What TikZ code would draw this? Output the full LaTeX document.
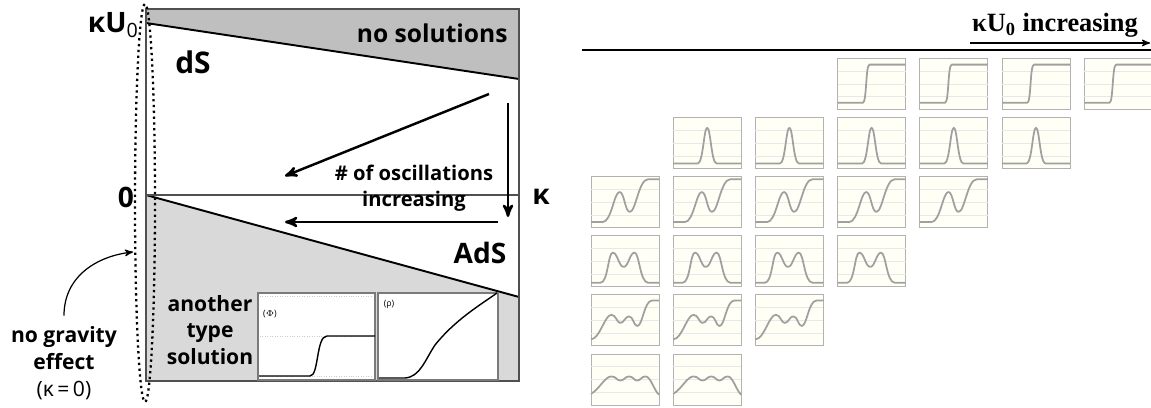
\documentclass[tikz,border=0pt]{standalone}
\usepackage{fontspec}
\usepackage{tikz}
\usetikzlibrary{arrows}
\usetikzlibrary{positioning}
\newfontfamily\labelfont{Open Sans}
\newfontfamily\titlefont{Liberation Serif}
\definecolor{nosolgray}{HTML}{BFBFBF}
\definecolor{adsgray}{HTML}{D9D9D9}
\definecolor{framegray}{HTML}{505050}
\definecolor{insetgray}{HTML}{7A7A7A}
\definecolor{thumbgray}{HTML}{A0A0A0}
\definecolor{thumbback}{HTML}{FFFFF6}

\tikzset{
  curve/.style={draw=thumbgray, line width=1pt, line join=round},
  thumbframe/.style={draw=gray!60, fill=thumbback, line width=0.5pt},
  thumbgrid/.style={draw=gray!18, line width=0.3pt},
  bigarrow/.style={->, line width=1.4pt},
  thinarrow/.style={->, line width=0.7pt},
  lab/.style={inner sep=0pt, font=\labelfont\bfseries},
}

% small plots for the right panel, drawn in a unit box
\newcommand\stepcurve{\draw[curve] (0,.13) -- (.37,.13) .. controls (.43,.13) and (.41,.88) .. (.47,.88) -- (1,.88);}
\newcommand\peakcurve{\draw[curve] (0,.1) -- (.36,.1) .. controls (.44,.1) and (.45,.8) .. (.5,.8) .. controls (.55,.8) and (.56,.1) .. (.64,.1) -- (1,.1);}
\newcommand\kinkcurve{\draw[curve] (0,.11) -- (.17,.11) .. controls (.3,.11) and (.34,.7) .. (.42,.7) .. controls (.49,.7) and (.5,.31) .. (.57,.31) .. controls (.66,.31) and (.7,.95) .. (.84,.95) -- (1,.95);}
\newcommand\twopeakcurve{\draw[curve] (0,.08) -- (.14,.08) .. controls (.25,.08) and (.25,.67) .. (.32,.67) .. controls (.39,.67) and (.41,.39) .. (.48,.39) .. controls (.55,.39) and (.57,.67) .. (.64,.67) .. controls (.71,.67) and (.72,.08) .. (.84,.08) -- (1,.08);}
\newcommand\wigglecurve{\draw[curve] (0,.13) .. controls (.13,.13) and (.2,.61) .. (.3,.61) .. controls (.37,.61) and (.38,.45) .. (.43,.45) .. controls (.49,.45) and (.5,.58) .. (.56,.58) .. controls (.62,.58) and (.63,.39) .. (.68,.39) .. controls (.76,.39) and (.78,.89) .. (.9,.89) -- (1,.89);}
\newcommand\bumpcurve{\draw[curve] (0,.22) .. controls (.12,.3) and (.2,.56) .. (.3,.56) .. controls (.37,.56) and (.38,.48) .. (.43,.48) .. controls (.49,.48) and (.5,.56) .. (.56,.56) .. controls (.62,.56) and (.63,.48) .. (.68,.48) .. controls (.73,.48) and (.74,.56) .. (.8,.56) .. controls (.88,.56) and (.92,.3) .. (1,.2);}

\begin{document}
\begin{tikzpicture}[>=stealth', x=0.02cm, y=-0.02cm]
\useasboundingbox (0,0) rectangle (1151,408);

% \draw shaded regions
\fill[nosolgray] (146,9) -- (519,9) -- (519,79) -- (146,23) -- cycle;
\fill[adsgray] (146,195) -- (519,297) -- (519,381) -- (146,381) -- cycle;
% \draw boundary lines
\draw[line width=1.1pt] (146,23) -- (519,79);
\draw[line width=1.1pt] (146,195) -- (519,297);
\draw[framegray, line width=.7pt] (146,195) -- (519,195);
\draw[framegray, line width=.9pt] (146,9) rectangle (519,381);

% \draw dotted ellipse at kappa = 0
\draw[dotted, line width=1.3pt] (145,203) ellipse (10 and 199);

% \draw inset plots
\draw[insetgray, fill=white, line width=.8pt] (258,293) rectangle (375,380);
\draw[insetgray, fill=white, line width=.8pt] (378,293) rectangle (498,380);
\draw[gray!40, densely dotted, line width=.4pt] (260,296) -- (373,296);
\draw[gray!40, densely dotted, line width=.4pt] (260,336) -- (373,336);
\draw[gray!40, densely dotted, line width=.4pt] (260,376) -- (373,376);
\draw[line width=.8pt] (259,376) -- (310,376) .. controls (319,376) and (316,336) .. (327,336) -- (375,336);
\draw[line width=.8pt] (379,378) -- (405,378) .. controls (420,377) and (425,360) .. (435,345) .. controls (455,320) and (480,305) .. (497,293);
\node[inner sep=0pt, font=\labelfont\fontsize{5}{6}\selectfont] (philab) at (270,314) {($\Phi$)};
\node[inner sep=0pt, font=\labelfont\fontsize{5}{6}\selectfont] (rholab) at (389,304) {(ρ)};

% \draw arrows
\coordinate (diagstart) at (489,94);
\coordinate (diagend) at (285,176);
\coordinate (vertstart) at (508,103);
\coordinate (vertend) at (508,217);
\coordinate (horstart) at (498,222);
\coordinate (horend) at (285,222);
\draw[bigarrow] (diagstart) -- (diagend);
\draw[bigarrow] (vertstart) -- (vertend);
\draw[bigarrow] (horstart) -- (horend);

% \draw labels
\node[lab, font=\labelfont\bfseries\fontsize{16}{18}\selectfont, anchor=east] (ku0) at (139,25) {κU\textsubscript{\mdseries 0}};
\node[lab, font=\labelfont\bfseries\fontsize{16}{18}\selectfont] (zero) at (126,197) {0};
\node[lab, font=\labelfont\bfseries\fontsize{16}{18}\selectfont] (kappa) at (541,197) {κ};
\node[lab, font=\labelfont\bfseries\fontsize{17}{20}\selectfont] (ds) at (193,62) {dS};
\node[lab, font=\labelfont\bfseries\fontsize{16}{18}\selectfont] (ads) at (480,253) {AdS};
\node[lab, font=\labelfont\bfseries\fontsize{14}{16}\selectfont, anchor=east] (nosol) at (508,33) {no solutions};
\node[lab, font=\labelfont\bfseries\fontsize{11.5}{14.7}\selectfont, align=center] (oscil) at (414,188) {\# of oscillations\\increasing};
\node[lab, font=\labelfont\bfseries\fontsize{12}{15.3}\selectfont, align=center] (another) at (210,330) {another\\type\\solution};
\node[lab, font=\labelfont\bfseries\fontsize{12}{15.3}\selectfont, align=center] (nograv) at (64,363) {no gravity\\effect\\\mdseries(κ\,=\,0)};
\coordinate (gravend) at (133,252);
\draw[thinarrow] ([yshift=6pt]nograv.north) .. controls +(0,-40) and +(-35,4) .. (gravend);

% \draw right panel header
\draw[line width=1.2pt] (582,50) -- (1151,50);
\node[inner sep=0pt, font=\titlefont\bfseries\fontsize{15}{17}\selectfont] (trend) at (1055,25) {κU\textsubscript{0} increasing};
\coordinate (trendstart) at (970,43);
\coordinate (trendend) at (1150,43);
\draw[thinarrow] (trendstart) -- (trendend);

% \draw thumbnails, one row per kind of solution
\foreach \r/\cfirst/\clast/\curvename in {0/4/7/\stepcurve, 1/2/6/\peakcurve, 2/1/5/\kinkcurve, 3/1/4/\twopeakcurve, 4/1/3/\wigglecurve, 5/1/2/\bumpcurve} {
  \foreach \c in {\cfirst,...,\clast} {
    \pgfmathsetmacro\tx{591+(\c-1)*82.2}
    \pgfmathsetmacro\ty{58.5+\r*59.1+51}
    \begin{scope}[shift={(\tx,\ty)}, x=1.36cm, y=1.02cm]
      \draw[thumbframe] (0,0) rectangle (1,1);
      \foreach \g in {.25,.5,.75} \draw[thumbgrid] (0,\g) -- (1,\g);
      \curvename
    \end{scope}
  }
}

\end{tikzpicture}
\end{document}
